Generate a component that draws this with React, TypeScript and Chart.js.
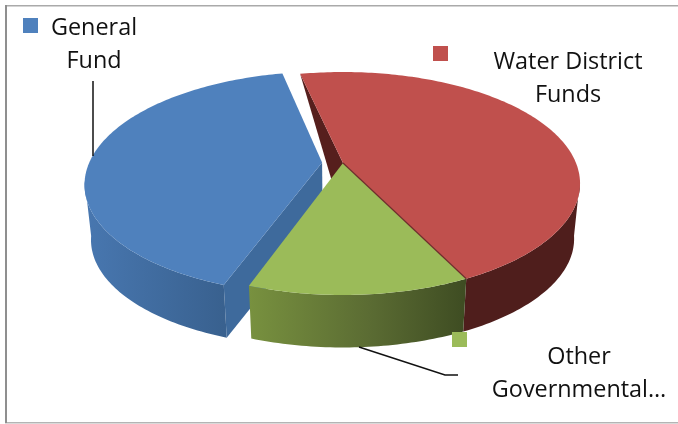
import React, { useEffect, useRef } from "react";
import { Chart, registerables } from "chart.js";

Chart.register(...registerables);

const categories = ["General Fund", "Water District Funds", "Other Governmental…"];
const shares = [41.1, 46.2, 12.7];
const topColors = ["#4f81bd", "#c0504d", "#9bbb59"];
const explode = [0.09, 0, 0];
const rotationDeg = 199.5;

const labelLines = [["General", "Fund"], ["Water District", "Funds"], ["Other", "Governmental…"]];
const labelAnchors = [[94, 35], [568, 69], [579, 364]];
const keyBoxes = [[23, 18], [433, 46], [452, 332]];
const leaderLines = [
  [[93, 81], [93, 156]],
  [],
  [[359, 347], [445, 375], [458, 375]],
];

// Perspective of the pie plane
const APEX_X = 343, APEX_Y = 163, A = 233, B = 107.7, K = 0.1838;
const DEPTH = 55.8, SHRINK = 0.975;

type P = [number, number];
const project = (u: number, v: number, bottom: boolean): P => {
  const w = 1 - K * v;
  const x = (A * u) / w;
  const y = (B * v) / w;
  return bottom
    ? [APEX_X + x * SHRINK, APEX_Y + y * SHRINK + DEPTH]
    : [APEX_X + x, APEX_Y + y];
};

const fillPoly = (ctx: CanvasRenderingContext2D, pts: P[], fill: any) => {
  ctx.beginPath();
  pts.forEach((p, i) => (i ? ctx.lineTo(p[0], p[1]) : ctx.moveTo(p[0], p[1])));
  ctx.closePath();
  ctx.fillStyle = fill;
  ctx.fill();
};

const pie3d = {
  id: "pie3d",
  beforeDraw(chart: any) {
    const ctx = chart.ctx as CanvasRenderingContext2D;
    ctx.save();
    ctx.fillStyle = "#ffffff";
    ctx.fillRect(0, 0, chart.width, chart.height);
    ctx.fillStyle = "#aaaaaa";
    ctx.fillRect(5, 5, chart.width - 5, 1.5);
    ctx.fillStyle = "#b4b4b4";
    ctx.fillRect(5, 422, chart.width - 5, 1.5);
    ctx.fillStyle = "#8f8f8f";
    ctx.fillRect(5, 5, 2, 418);
    ctx.restore();
  },
  beforeDatasetDraw(chart: any) {
    const ctx = chart.ctx as CanvasRenderingContext2D;
    const arcs = chart.getDatasetMeta(0).data;

    const geom = arcs.map((arc: any, i: number) => {
      const mid = (arc.startAngle + arc.endAngle) / 2;
      const du = Math.cos(mid) * explode[i];
      const dv = Math.sin(mid) * explode[i];
      const angles: number[] = [];
      const n = Math.ceil(((arc.endAngle - arc.startAngle) * 180) / Math.PI);
      for (let s = 0; s <= n; s++) angles.push(arc.startAngle + ((arc.endAngle - arc.startAngle) * s) / n);
      const rim = (b: boolean) => angles.map((a) => project(Math.cos(a) + du, Math.sin(a) + dv, b));
      const front = angles.filter((a) => Math.sin(a) >= 0.15);
      const frontRim = (b: boolean) => front.map((a) => project(Math.cos(a) + du, Math.sin(a) + dv, b));
      return {
        apexTop: project(du, dv, false),
        apexBottom: project(du, dv, true),
        top: rim(false),
        bottom: rim(true),
        sideTop: frontRim(false),
        sideBottom: frontRim(true),
      };
    });

    const [blue, red, green] = geom;
    ctx.save();

    // Water District: inner cut face, outer wall, top
    fillPoly(ctx, [red.top[0], red.apexTop, red.apexBottom], "#561f1d");
    fillPoly(ctx, [...red.sideTop, ...[...red.sideBottom].reverse()], "#4f1e1c");
    fillPoly(ctx, [red.apexTop, ...red.top], topColors[1]);

    // General Fund: cut face, outer wall, top
    const blueEnd = blue.top[0];
    const blueEndB = blue.bottom[0];
    fillPoly(ctx, [blue.apexTop, blueEnd, blueEndB, blue.apexBottom], "#3e6a9c");
    const gb = ctx.createLinearGradient(85, 0, blueEnd[0], 0);
    gb.addColorStop(0, "#4877b0");
    gb.addColorStop(1, "#39618f");
    fillPoly(ctx, [...blue.sideTop, ...[...blue.sideBottom].reverse()], gb);
    fillPoly(ctx, [blue.apexTop, ...blue.top], topColors[0]);

    // Other Governmental: outer wall, top
    const gg = ctx.createLinearGradient(green.top[green.top.length - 1][0], 0, green.top[0][0], 0);
    gg.addColorStop(0, "#78913f");
    gg.addColorStop(0.55, "#5b6c33");
    gg.addColorStop(1, "#3e4c22");
    fillPoly(ctx, [...green.sideTop, ...[...green.sideBottom].reverse()], gg);
    fillPoly(ctx, [green.apexTop, ...green.top], topColors[2]);

    // dark seam between red and green
    ctx.beginPath();
    ctx.moveTo(green.apexTop[0], green.apexTop[1]);
    ctx.lineTo(green.top[0][0], green.top[0][1]);
    ctx.strokeStyle = "#6e2d2b";
    ctx.lineWidth = 1.2;
    ctx.stroke();

    ctx.restore();
    return false;
  },
  afterDraw(chart: any) {
    const ctx = chart.ctx as CanvasRenderingContext2D;
    ctx.save();
    // leader lines
    ctx.strokeStyle = "#111111";
    ctx.lineWidth = 1.5;
    leaderLines.forEach((line) => {
      if (!line.length) return;
      ctx.beginPath();
      line.forEach((p, i) => (i ? ctx.lineTo(p[0], p[1]) : ctx.moveTo(p[0], p[1])));
      ctx.stroke();
    });
    // keys and labels
    ctx.font = '23.4px "Open Sans", sans-serif';
    ctx.textAlign = "center";
    ctx.textBaseline = "alphabetic";
    categories.forEach((_, i) => {
      ctx.fillStyle = topColors[i];
      ctx.fillRect(keyBoxes[i][0], keyBoxes[i][1], 15, 15);
      ctx.fillStyle = "#111111";
      labelLines[i].forEach((t, j) => {
        ctx.fillText(t, labelAnchors[i][0], labelAnchors[i][1] + j * 33);
      });
    });
    ctx.restore();
  },
};

export default function App() {
  const ref = useRef<HTMLCanvasElement>(null);
  useEffect(() => {
    document.body.style.margin = "0";
    const chart = new Chart(ref.current as HTMLCanvasElement, {
      type: "pie",
      data: {
        labels: categories,
        datasets: [{ data: shares, backgroundColor: topColors, borderWidth: 0 }],
      },
      options: {
        responsive: false,
        animation: false,
        rotation: rotationDeg,
        plugins: { legend: { display: false }, tooltip: { enabled: false } },
      },
      plugins: [pie3d],
    } as any);
    return () => chart.destroy();
  }, []);
  return (
    <canvas
      ref={ref}
      width={678}
      height={424}
      style={{ display: "block", width: 678, height: 424, filter: "blur(0.4px)" }}
    />
  );
}
